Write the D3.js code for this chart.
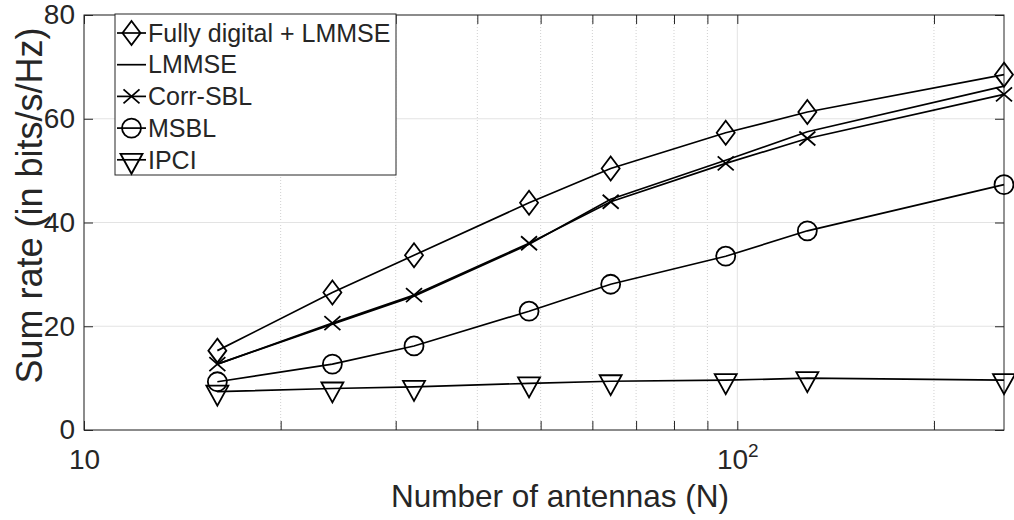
<!DOCTYPE html>
<html>
<head>
<meta charset="utf-8">
<script src="https://cdn.jsdelivr.net/npm/d3@7"></script>
<style>
  body { margin: 0; background: #fff; }
  text { font-family: "Liberation Sans", Arial, Helvetica, sans-serif; fill: #262626; }
</style>
</head>
<body>
<script>

// data
var antennas = [16, 24, 32, 48, 64, 96, 128, 256];
var fullyDigital = [15.3, 26.5, 33.7, 43.8, 50.4, 57.3, 61.3, 68.5];
var lmmse = [12.7, 20.4, 25.8, 35.8, 44.5, 52.0, 57.5, 66.3];
var corrSbl = [12.7, 20.6, 26.0, 36.0, 44.0, 51.4, 56.2, 64.7];
var msbl = [9.3, 12.7, 16.2, 22.9, 28.1, 33.5, 38.4, 47.3];
var ipci = [7.4, 8.0, 8.3, 9.0, 9.4, 9.6, 10.0, 9.6];

var seriesNames = ["Fully digital + LMMSE", "LMMSE", "Corr-SBL", "MSBL", "IPCI"];
var seriesMarkers = ["diamond", "none", "x", "circle", "triangle"];
var yTicks = [0, 20, 40, 60, 80];
var xMajor = [10, 100];
var xMinor = [20, 30, 40, 50, 60, 70, 80, 90, 200];

var series = [fullyDigital, lmmse, corrSbl, msbl, ipci].map(function(vals, i){
    return {name: seriesNames[i], marker: seriesMarkers[i],
            points: vals.map(function(v, j){ return {x: antennas[j], y: v}; })};
});

var width = 1014, height = 520;
var margin = {left: 84, right: 10, top: 15, bottom: 90};
var plotW = width - margin.left - margin.right;
var plotH = height - margin.top - margin.bottom;

var svg = d3.select("body").append("svg")
    .attr("width", width)
    .attr("height", height);

var g = svg.append("g").attr("transform", `translate(${margin.left},${margin.top})`);

var x = d3.scaleLog().domain([10, 256]).range([0, plotW]);
var y = d3.scaleLinear().domain([0, 80]).range([plotH, 0]);

// grid
g.append("g").selectAll("line").data(xMinor).enter().append("line")
    .attr("x1", d => x(d)).attr("x2", d => x(d))
    .attr("y1", 0).attr("y2", plotH)
    .attr("stroke", "#d0d0d0").attr("stroke-dasharray", "1,2");
g.append("g").selectAll("line").data(xMajor).enter().append("line")
    .attr("x1", d => x(d)).attr("x2", d => x(d))
    .attr("y1", 0).attr("y2", plotH)
    .attr("stroke", "#e3e3e3");
g.append("g").selectAll("line").data(yTicks).enter().append("line")
    .attr("x1", 0).attr("x2", plotW)
    .attr("y1", d => y(d)).attr("y2", d => y(d))
    .attr("stroke", "#e3e3e3");

// axes (ticks pointing inward)
function styleAxis(sel){
    sel.select(".domain").remove();
    sel.selectAll(".tick line").attr("stroke", "#262626");
}

var xAxis = g.append("g").attr("transform", `translate(0,${plotH})`)
    .call(d3.axisBottom(x).tickValues(xMajor.concat(xMinor)).tickSizeInner(-9).tickSizeOuter(0).tickPadding(19)
        .tickFormat(d => xMajor.indexOf(d) >= 0 ? d : ""))
    .call(styleAxis);
xAxis.selectAll("text").attr("font-size", 28).attr("fill", "#262626")
    .each(function(d){
        if (d === 100){
            var t = d3.select(this).text("");
            t.append("tspan").text("10");
            t.append("tspan").attr("font-size", 19).attr("dy", -12).text("2");
        }
    });

g.append("g")
    .call(d3.axisTop(x).tickValues(xMajor.concat(xMinor)).tickSizeInner(-9).tickSizeOuter(0).tickFormat(""))
    .call(styleAxis);

var yAxis = g.append("g")
    .call(d3.axisLeft(y).tickValues(yTicks).tickSizeInner(-9).tickSizeOuter(0).tickPadding(9))
    .call(styleAxis);
yAxis.selectAll("text").attr("font-size", 28).attr("fill", "#262626");

g.append("g").attr("transform", `translate(${plotW},0)`)
    .call(d3.axisRight(y).tickValues(yTicks).tickSizeInner(-9).tickSizeOuter(0).tickFormat(""))
    .call(styleAxis);

// box
g.append("rect").attr("x", 0).attr("y", 0).attr("width", plotW).attr("height", plotH)
    .attr("fill", "none").attr("stroke", "#262626").attr("stroke-width", 1);

// lines
var line = d3.line().x(d => x(d.x)).y(d => y(d.y));

series.forEach(function(s){
    g.append("path").datum(s.points)
        .attr("d", line)
        .attr("fill", "none").attr("stroke", "#000").attr("stroke-width", 1.7);
});

function markerPath(type){
    var p = d3.path();
    if (type === "diamond"){
        p.moveTo(0, -12); p.lineTo(9, 0); p.lineTo(0, 12); p.lineTo(-9, 0); p.closePath();
    } else if (type === "x"){
        p.moveTo(-8, -7); p.lineTo(8, 7); p.moveTo(-8, 7); p.lineTo(8, -7);
    } else if (type === "circle"){
        p.arc(0, 0, 9.5, 0, 2 * Math.PI);
    } else if (type === "triangle"){
        p.moveTo(-11, -6); p.lineTo(11, -6); p.lineTo(0, 14); p.closePath();
    }
    return p.toString();
}

series.forEach(function(s){
    if (s.marker === "none") return;
    g.append("g").selectAll("path").data(s.points).enter().append("path")
        .attr("transform", d => `translate(${x(d.x)},${y(d.y)})`)
        .attr("d", markerPath(s.marker))
        .attr("fill", "none").attr("stroke", "#000").attr("stroke-width", 1.8);
});

// legend
var legend = svg.append("g").attr("transform", "translate(115,14)");
legend.append("rect").attr("width", 281).attr("height", 161)
    .attr("fill", "#fff").attr("stroke", "#262626").attr("stroke-width", 1);

series.forEach(function(s, i){
    var row = legend.append("g").attr("transform", `translate(0,${19 + i * 31.7})`);
    row.append("line").attr("x1", 2).attr("x2", 31).attr("y1", 0).attr("y2", 0)
        .attr("stroke", "#000").attr("stroke-width", 1.7);
    if (s.marker !== "none"){
        row.append("path").attr("transform", "translate(16.5,0)")
            .attr("d", markerPath(s.marker))
            .attr("fill", "none").attr("stroke", "#000").attr("stroke-width", 1.8);
    }
    row.append("text").attr("x", 33).attr("y", 0).attr("dy", "0.35em")
        .attr("font-size", 25).attr("fill", "#000").text(s.name);
});

// axis labels
svg.append("text")
    .attr("x", 560).attr("y", 507)
    .attr("text-anchor", "middle").attr("font-size", 31.5)
    .text("Number of antennas (N)");

svg.append("text")
    .attr("transform", `translate(42,${margin.top + plotH / 2 - 17}) rotate(-90)`)
    .attr("text-anchor", "middle").attr("font-size", 36)
    .text("Sum rate (in bits/s/Hz)");

</script>
</body>
</html>
